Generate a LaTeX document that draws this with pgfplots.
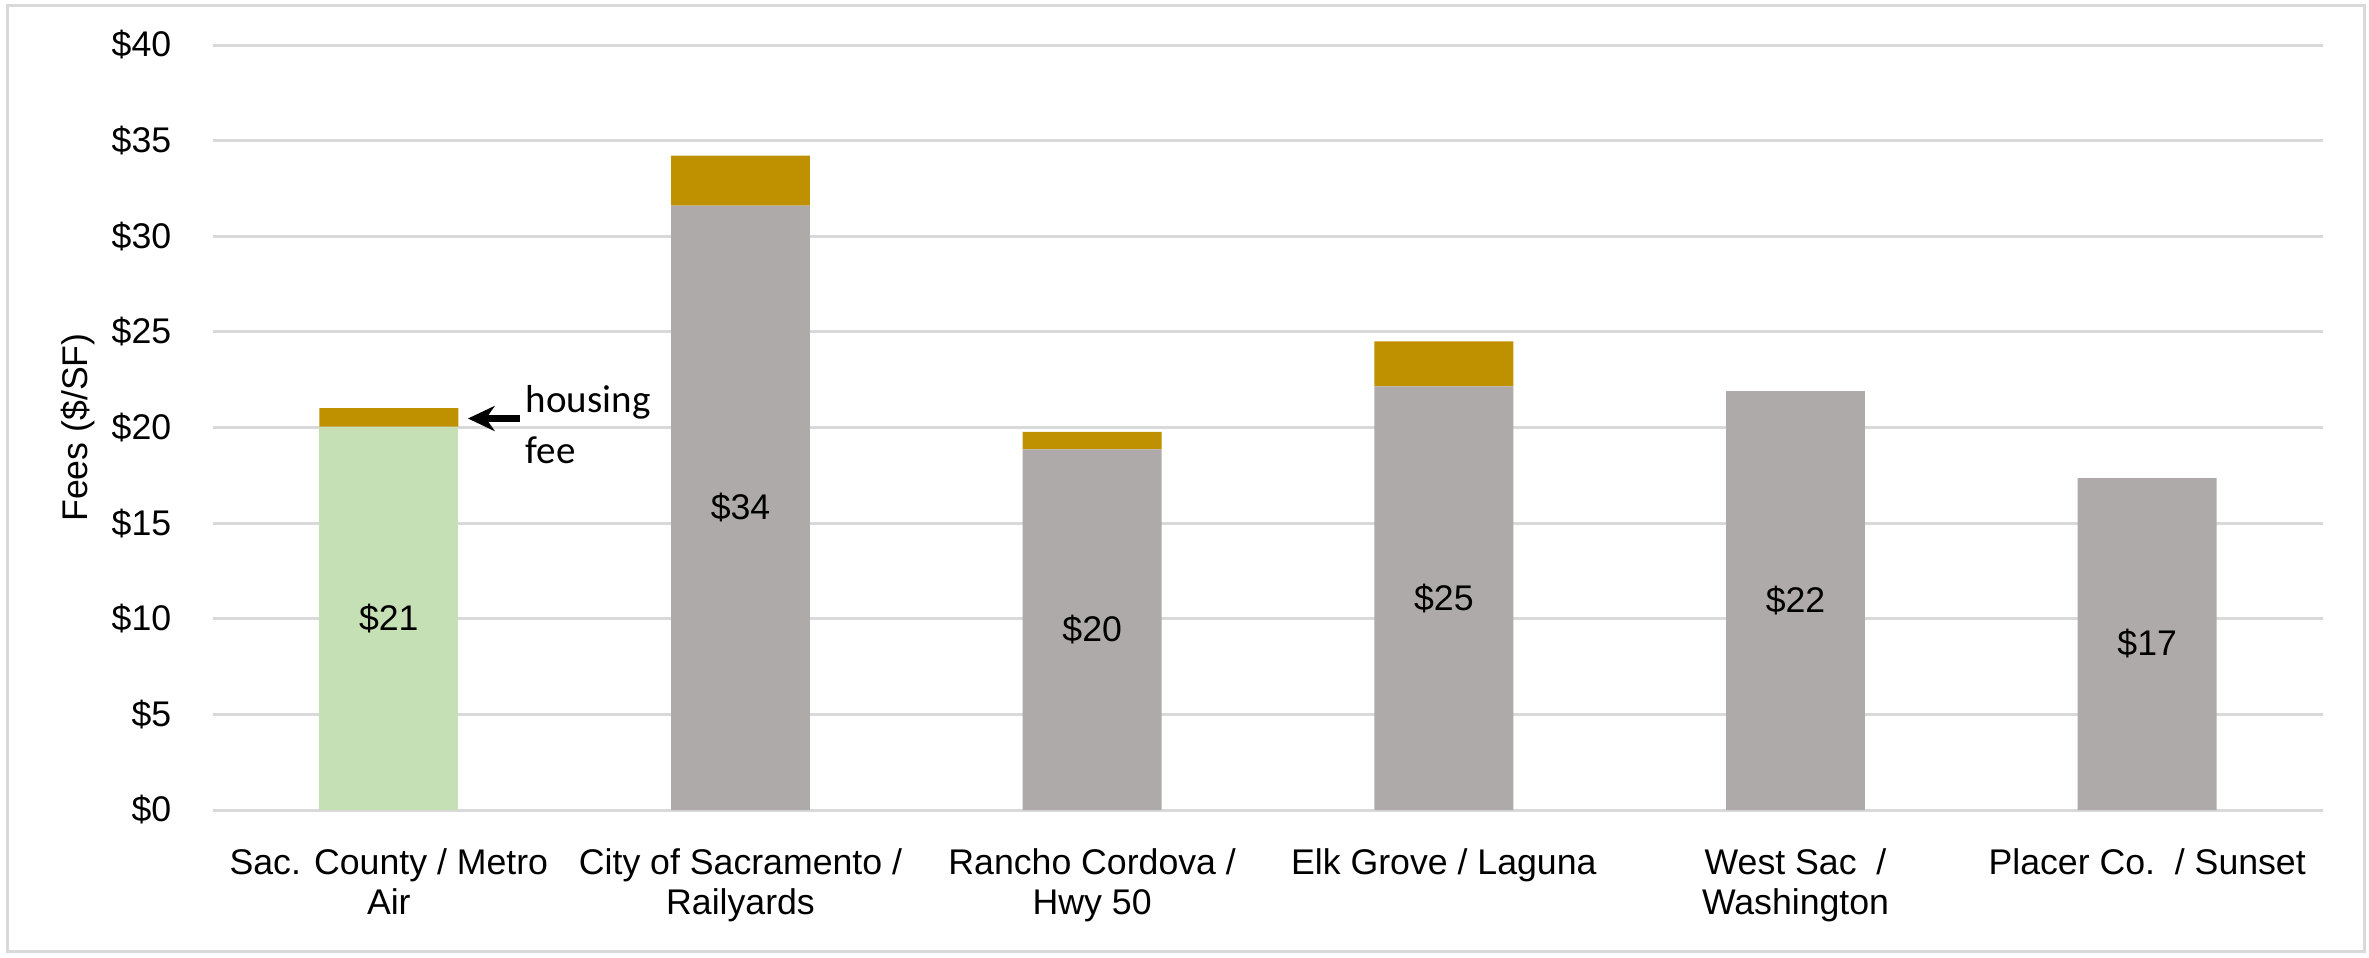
\documentclass[border=0pt]{standalone}
\usepackage{fontspec}
\setmainfont{Liberation Sans}
\newfontfamily\calibri{Carlito}
\usepackage{pgfplots}
\pgfplotsset{compat=1.18}
\usetikzlibrary{arrows.meta}
\definecolor{grn}{HTML}{C5E0B4}
\definecolor{gld}{HTML}{BF9000}
\definecolor{gry}{HTML}{AEAAAA}
\definecolor{grd}{HTML}{D9D9D9}
\begin{document}
\begin{tikzpicture}[font=\fontsize{10.7pt}{12pt}\selectfont]
\useasboundingbox (-63.9pt,-44.1pt) rectangle (646.8pt,243pt);
\draw[grd, line width=0.9pt] (-61.5pt,-42.3pt) rectangle (645.3pt,241.2pt);
\begin{axis}[
  at={(0,0)}, anchor=south west,
  scale only axis, width=633pt, height=229.5pt,
  xmin=-0.5, xmax=5.5, ymin=0, ymax=40,
  ybar stacked, bar width=0.395,
  axis line style={draw=none},
  major tick length=0pt,
  ytick={0,5,...,40},
  ymajorgrids, grid style={grd, line width=0.9pt},
  yticklabel={\$\pgfmathprintnumber{\tick}},
  /pgf/number format/assume math mode=true,
  yticklabel style={xshift=-9pt, font=\fontsize{10.7pt}{12pt}\selectfont},
  xtick={0,1,2,3,4,5},
  xticklabels={{Sac. County / Metro\\Air},{City of Sacramento /\\Railyards},{Rancho Cordova /\\Hwy 50},{Elk Grove / Laguna},{West Sac\ \ /\\Washington},{Placer Co.\ \ / Sunset}},
  xticklabel style={align=center, yshift=-8pt, font=\fontsize{10.7pt}{12pt}\selectfont},
  ylabel={Fees (\$/SF)},
  every axis y label/.style={at={(axis description cs:-0.064,0.5)}, rotate=90, anchor=center, font=\fontsize{10.7pt}{12pt}\selectfont},
  clip=false,
]
\addplot[fill=grn, draw=none] coordinates {(0,20.05) (1,0) (2,0) (3,0) (4,0) (5,0)};
\addplot[fill=gry, draw=none] coordinates {(0,0) (1,31.6) (2,18.86) (3,22.15) (4,21.9) (5,17.36)};
\addplot[fill=gld, draw=none] coordinates {(0,0.97) (1,2.62) (2,0.91) (3,2.36) (4,0) (5,0)};
\coordinate (L0) at (axis cs:0,10.0);
\coordinate (L1) at (axis cs:1,15.8);
\coordinate (L2) at (axis cs:2,9.43);
\coordinate (L3) at (axis cs:3,11.07);
\coordinate (L4) at (axis cs:4,10.95);
\coordinate (L5) at (axis cs:5,8.68);
\coordinate (A1) at (axis cs:0.373,20.47);
\coordinate (A2) at (axis cs:0.225,20.47);
\coordinate (H1) at (axis cs:0.388,20.8);
\coordinate (H2) at (axis cs:0.388,18.1);
\end{axis}
\node at (L0) {\$21};
\node at (L1) {\$34};
\node at (L2) {\$20};
\node at (L3) {\$25};
\node at (L4) {\$22};
\node at (L5) {\$17};
\draw[line width=2.1pt, -{Stealth[length=8pt,width=7.5pt]}] (A1) -- (A2);
\node[anchor=base west, inner sep=0pt, font=\calibri\fontsize{11.7pt}{13pt}\selectfont] at (H1) {housing};
\node[anchor=base west, inner sep=0pt, font=\calibri\fontsize{11.7pt}{13pt}\selectfont] at (H2) {fee};
\end{tikzpicture}
\end{document}
